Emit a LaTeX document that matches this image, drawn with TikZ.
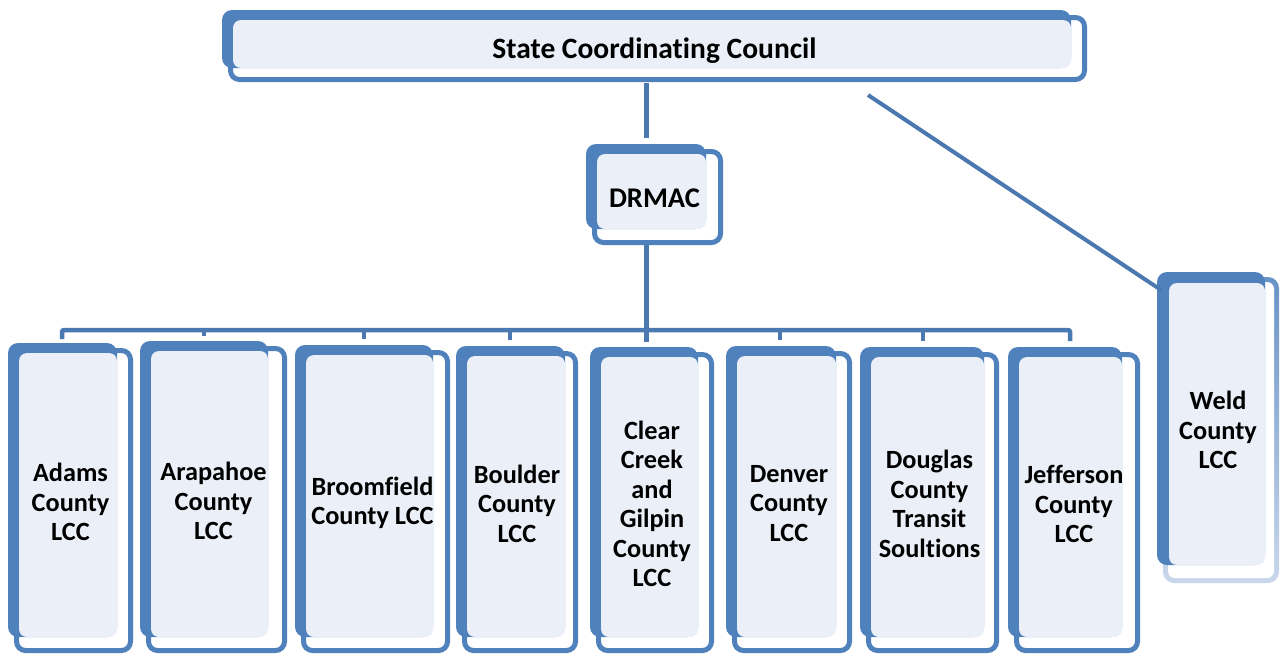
\documentclass[tikz,border=0pt]{standalone}
\usepackage{fontspec}
\setmainfont{Carlito}[Ligatures=NoCommon]
\definecolor{bblue}{HTML}{4F81BD}
\definecolor{lfill}{HTML}{EBF0F8}
\definecolor{cblue}{HTML}{4A78B0}
\definecolor{paleblue}{HTML}{C9D7EC}
\tikzset{
  frontbox/.style={draw=bblue, line width=5pt, fill=white, rounded corners=9pt},
  backbox/.style={fill=bblue, rounded corners=10pt},
  lightbox/.style={fill=lfill, rounded corners=8pt},
  boxtext/.style={font=\bfseries\fontsize{26.3}{29.5}\selectfont, align=center, text=black, inner sep=0pt, yshift=-4pt},
  titletext/.style={font=\bfseries\fontsize{28.5}{32}\selectfont, align=center, text=black, inner sep=0pt, yshift=-4pt},
  scctext/.style={font=\bfseries\fontsize{29.5}{32}\selectfont, align=center, text=black, inner sep=0pt, yshift=-5pt},
  conn/.style={draw=cblue, line width=5pt},
  thinconn/.style={draw=cblue, line width=4.5pt}
}
% #1 name, #2 bx0, #3 by0, #4 bx1, #5 by1, #6 fx1, #7 fy1, #8 text style, #9 text
\newcommand\orgbox[9]{%
  \draw[frontbox] ({#2+6+2.5},{#3+5+2.5}) rectangle ({#6-2.5},{#7-2.5});
  \fill[backbox] (#2,#3) rectangle (#4,#5);
  \fill[lightbox] ({#2+11},{#3+10}) rectangle (#4,#5);
  \node[#8] (#1) at ({(#2+#6)/2},{(#3+#7)/2}) {#9};
  \coordinate (#1-nw) at (#2,#3);
}
\begin{document}
\begin{tikzpicture}[x=1pt,y=-1pt]
\useasboundingbox (0,0) rectangle (1280,654);

% connectors
\coordinate (sccS) at (646,83);
\coordinate (drmacN) at (646,138);
\coordinate (drmacS) at (646,236);
\coordinate (bar) at (0,330);
\coordinate (t1) at (62,339);
\coordinate (t2) at (204,336);
\coordinate (t3) at (364,339);
\coordinate (t4) at (510,340);
\coordinate (t5) at (646,342);
\coordinate (t6) at (780,340);
\coordinate (t7) at (923,341);
\coordinate (t8) at (1070,341);
\coordinate (wstart) at (868,95);

\draw[conn] (sccS) -- (drmacN);
\draw[conn] (drmacS) -- (t5);
\draw[thinconn, rounded corners=2pt] (t1) -- (t1 |- bar) -- (t8 |- bar) -- (t8);
\foreach \t in {t2,t3,t4,t6,t7} \draw[thinconn] (\t) -- (\t |- bar);

% State Coordinating Council
\orgbox{scc}{222}{10}{1071}{68}{1087}{82}{scctext}{State Coordinating Council}

% DRMAC
\orgbox{drmac}{586}{144}{706}{229}{723}{245}{titletext}{DRMAC}

% bottom boxes
\orgbox{adams}{8}{343}{117}{637}{133}{653}{boxtext}{Adams\\County\\LCC}
\orgbox{arapahoe}{140}{341}{268}{637}{287}{653}{boxtext}{Arapahoe\\County\\LCC}
\orgbox{broomfield}{295}{345}{433}{637}{450}{653}{boxtext}{Broomfield\\County LCC}
\orgbox{boulder}{456}{346}{565}{637}{578}{653}{boxtext}{Boulder\\County\\LCC}
\orgbox{clear}{590}{347}{698}{637}{714}{653}{boxtext}{Clear\\Creek\\and\\Gilpin\\County\\LCC}
\orgbox{denver}{726}{346}{836}{637}{852}{653}{boxtext}{Denver\\County\\LCC}
\orgbox{douglas}{860}{347}{984}{637}{999}{653}{boxtext}{Douglas\\County\\Transit\\Soultions}
\orgbox{jefferson}{1008}{347}{1122}{637}{1140}{653}{boxtext}{Jefferson\\County\\LCC}

% Weld (lighter front frame)
\shade[top color=bblue!85, bottom color=paleblue, rounded corners=11pt] (1163,277) rectangle (1279,583);
\fill[white, rounded corners=7pt] (1168,282) rectangle (1274,578);
\fill[backbox] (1157,272) rectangle (1265,565);
\fill[lightbox] (1169,283) rectangle (1265,565);
\node[boxtext, yshift=2pt] (weld) at (1218,428) {Weld\\County\\LCC};
\coordinate (weld-nw) at (1161,290);

\draw[thinconn, line width=4pt] (wstart) -- (weld-nw);
\end{tikzpicture}
\end{document}
